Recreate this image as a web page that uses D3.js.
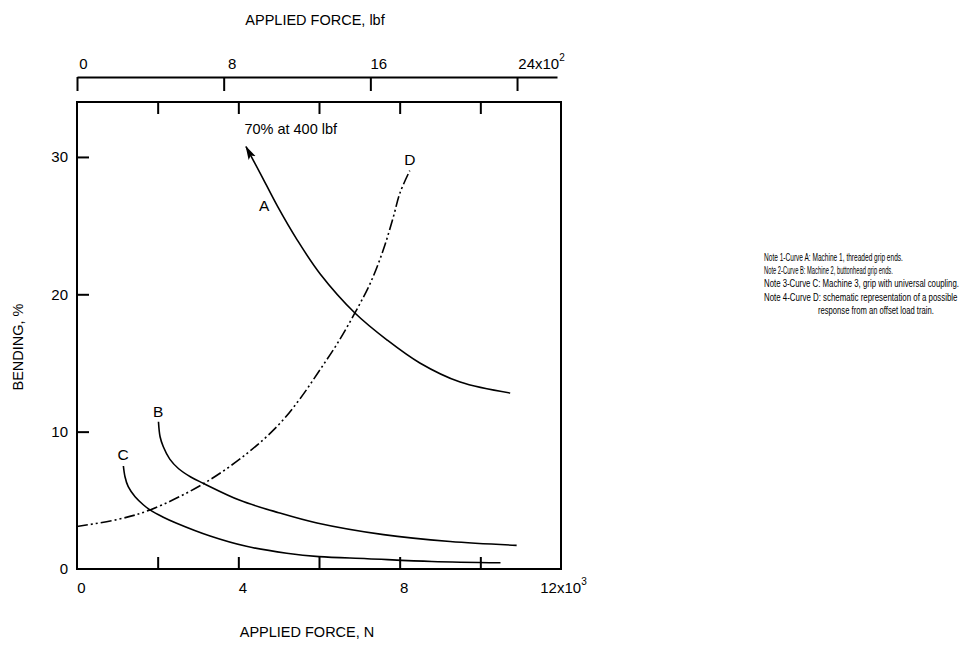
<!DOCTYPE html>
<html><head><meta charset="utf-8">
<script src="https://cdn.jsdelivr.net/npm/d3@7"></script>
<style>
body{margin:0;background:#fff;}
text{font-family:"Liberation Sans",Arial,Helvetica,sans-serif;fill:#000;}
</style>
</head><body>
<svg id="chart" width="966" height="646"></svg>
<script>
// ---- data (force in 10^3 N, bending in %) ----
const curveA = [[4.19,30.75],[4.54,28.83],[4.98,26.36],[5.45,24.0],[6.03,21.48],[6.89,18.64],[7.69,16.67],[8.5,15.0],[9.5,13.61],[10.74,12.81]];
const curveB = [[2.02,10.72],[2.06,9.63],[2.14,8.9],[2.3,8.0],[2.52,7.3],[2.82,6.7],[3.13,6.24],[4.04,5.0],[5.0,4.1],[5.95,3.35],[7.6,2.5],[9.25,2.0],[10.9,1.72]];
const curveC = [[1.15,7.5],[1.19,6.72],[1.27,5.99],[1.44,5.26],[1.65,4.66],[1.81,4.3],[2.14,3.77],[2.47,3.33],[3.3,2.4],[4.2,1.65],[5.2,1.15],[6.0,0.9],[7.2,0.75],[8.8,0.55],[10.5,0.45]];
const curveD = [[0,3.1],[1,3.6],[1.81,4.3],[3.13,6.2],[4.21,8.4],[5.0,10.5],[5.53,12.4],[6.0,14.4],[6.45,16.4],[6.89,18.64],[7.27,20.8],[7.59,23.2],[7.84,25.6],[8.01,27.4],[8.25,29.0]];
const curveLabels = [["A",4.64,26.1],["B",2.01,11.05],["C",1.14,7.93],["D",8.25,29.4]];
const annotation = ["70% at 400 lbf",4.15,31.7];
const xTicksN = [0,2,4,6,8,10,12];
const xLabelsN = [0,4,8,12];
const yTicks = [0,10,20,30];
const xTicksLbf = [0,8,16,24];
const notes = [
  "Note 1-Curve A: Machine 1, threaded grip ends.",
  "Note 2-Curve B: Machine 2, buttonhead grip ends.",
  "Note 3-Curve C: Machine 3, grip with universal coupling.",
  "Note 4-Curve D: schematic representation of a possible",
  "response from an offset load train."
];
const noteWidths = [139,129,195,194,116];

// ---- layout ----
const L=77, R=561, T=102, B=569;
const FS=15;
const svg = d3.select("#chart");
const x = d3.scaleLinear().domain([0,12]).range([L,R]);
const y = d3.scaleLinear().domain([0,34]).range([B,T]);
const xLbf = d3.scaleLinear().domain([0,26.18]).range([L,557]);

// box
svg.append("rect").attr("x",L).attr("y",T).attr("width",R-L).attr("height",B-T)
  .attr("fill","none").attr("stroke","#000").attr("stroke-width",2);

function styleAxis(g){
  g.select(".domain").remove();
  g.selectAll(".tick line").attr("stroke","#000").attr("stroke-width",2);
  g.selectAll("text").attr("font-size",FS).attr("fill","#000")
    .attr("font-family","'Liberation Sans',Arial,sans-serif");
}

// left axis (ticks inward)
const gl = svg.append("g").attr("transform",`translate(${L},0)`)
  .call(d3.axisLeft(y).tickValues(yTicks).tickSizeInner(-12).tickSizeOuter(0).tickPadding(9));
styleAxis(gl);
gl.selectAll(".tick").filter(d=>d===0).select("line").remove();

// bottom axis
const gb = svg.append("g").attr("transform",`translate(0,${B})`)
  .call(d3.axisBottom(x).tickValues(xTicksN).tickSizeInner(-12).tickSizeOuter(0).tickPadding(13)
    .tickFormat(d=> xLabelsN.includes(d) ? String(d) : ""));
styleAxis(gb);
gb.selectAll(".tick").filter(d=>d===0||d===12).select("line").remove();
gb.selectAll(".tick text").attr("dx",4);
gb.selectAll(".tick").filter(d=>d===12).select("text").text(null).attr("dx",2)
  .call(t=>{t.append("tspan").text("12x10");t.append("tspan").attr("dy",-8).attr("font-size",10).text("3");});

// top box ticks (inward)
const gt = svg.append("g").attr("transform",`translate(0,${T})`)
  .call(d3.axisTop(x).tickValues(xTicksN.filter(d=>d>0&&d<12)).tickSizeInner(-12).tickSizeOuter(0).tickFormat(""));
styleAxis(gt);

// top lbf axis
const gtl = svg.append("g").attr("transform",`translate(0,77)`)
  .call(d3.axisTop(xLbf).tickValues(xTicksLbf).tickSizeInner(-14).tickSizeOuter(0).tickPadding(8));
gtl.select(".domain").attr("stroke","#000").attr("stroke-width",2);
gtl.selectAll(".tick line").attr("stroke","#000").attr("stroke-width",2);
gtl.selectAll("text").attr("font-size",FS).attr("fill","#000").attr("font-family","'Liberation Sans',Arial,sans-serif");
gtl.selectAll(".tick text").attr("dx",d=> d===24? 24 : (d===0?6:8));
gtl.selectAll(".tick").filter(d=>d===24).select("text").text(null)
  .call(t=>{t.append("tspan").text("24x10");t.append("tspan").attr("dy",-8).attr("font-size",10).text("2");});

// axis titles
svg.append("text").attr("x",315).attr("y",25).attr("text-anchor","middle").attr("font-size",14.5).text("APPLIED FORCE, lbf");
svg.append("text").attr("x",307).attr("y",637).attr("text-anchor","middle").attr("font-size",14.5).text("APPLIED FORCE, N");
svg.append("text").attr("transform","translate(23,347) rotate(-90)").attr("text-anchor","middle").attr("font-size",14.5).text("BENDING, %");

// arrow marker
svg.append("defs").append("marker").attr("id","arr").attr("markerUnits","userSpaceOnUse")
  .attr("viewBox","0 0 14 10").attr("refX",13).attr("refY",5).attr("markerWidth",14).attr("markerHeight",10)
  .attr("orient","auto-start-reverse")
  .append("path").attr("d","M0,1 L14,5 L0,9 L3,5 Z").attr("fill","#000");

const line = d3.line().x(d=>x(d[0])).y(d=>y(d[1])).curve(d3.curveCatmullRom.alpha(0.5));
function draw(data, extra){
  const p = svg.append("path").attr("d",line(data)).attr("stroke","#000").attr("stroke-width",1.6).attr("fill","none");
  if(extra) extra(p);
}
draw(curveA, p=>p.attr("marker-start","url(#arr)"));
draw(curveB);
draw(curveC);
draw(curveD, p=>p.attr("stroke-dasharray","11,3,2,3,2,3"));

// curve labels
svg.selectAll(".clab").data(curveLabels).join("text").attr("class","clab")
  .attr("x",d=>x(d[1])).attr("y",d=>y(d[2])).attr("text-anchor","middle").attr("font-size",15.5).text(d=>d[0]);
svg.append("text").attr("x",x(annotation[1])).attr("y",y(annotation[2])).attr("font-size",14.5).text(annotation[0]);

// notes (condensed lettering)
svg.selectAll(".note").data(notes).join("text").attr("class","note")
  .attr("font-size",10.5).text(d=>d)
  .each(function(d,i){
    const w = this.getComputedTextLength();
    const s = noteWidths[i]/w;
    const x0 = i===4 ? 818 : 764;
    d3.select(this).attr("transform",`translate(${x0},${261+i*13.2}) scale(${s},1)`);
  });
</script>
</body></html>
